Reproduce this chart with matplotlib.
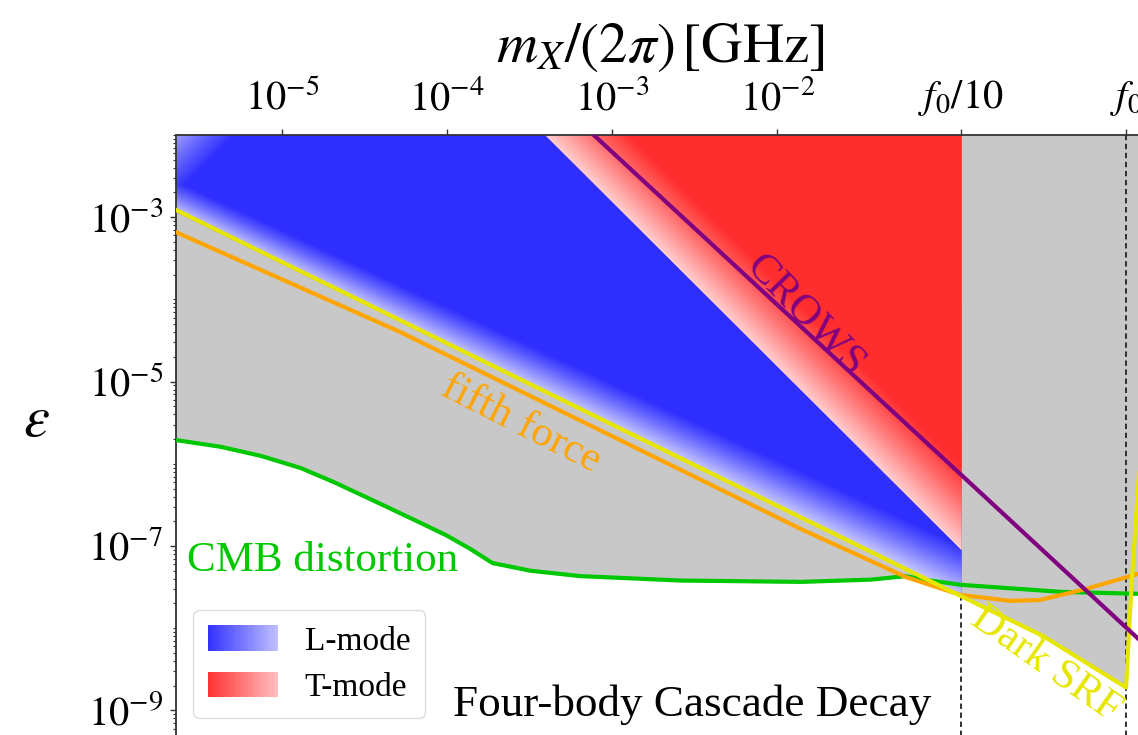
import numpy as np
import matplotlib
matplotlib.use('Agg')
import matplotlib.pyplot as plt
from matplotlib.patches import Rectangle, Patch
from matplotlib.legend_handler import HandlerBase
from matplotlib.colors import to_rgb
from matplotlib.ticker import NullLocator, NullFormatter, LogLocator, FixedLocator, FixedFormatter

plt.rcParams['font.family'] = ['Liberation Serif', 'DejaVu Serif']
plt.rcParams['mathtext.fontset'] = 'stix'

# ---------------- data (mass in GHz, epsilon) ----------------
F0 = 1.3
X_MIN, X_MAX = 2.26e-6, 10.0
Y_MIN, Y_MAX = 1e-10, 1e-2

cmb_m = [2.25e-6, 4.23e-6, 7.4e-6, 1.29e-5, 2.05e-5, 3.94e-5, 6.89e-5, 1.0e-4, 1.38e-4,
         1.75e-4, 1.88e-4, 3.2e-4, 6.4e-4, 2.6e-3, 1.4e-2, 3.7e-2, 6.0e-2, 8.5e-2, 0.13,
         0.52, 1.55, 10.0]
cmb_eps = [1.95e-6, 1.61e-6, 1.25e-6, 8.9e-7, 6.0e-7, 3.25e-7, 1.91e-7, 1.33e-7, 9.2e-8,
           6.8e-8, 6.2e-8, 5.0e-8, 4.3e-8, 3.8e-8, 3.66e-8, 3.9e-8, 4.3e-8, 3.8e-8, 3.37e-8,
           2.77e-8, 2.62e-8, 2.5e-8]

ff_m = [2.26e-6, 5.2e-5, 1.39e-2, 6.0e-2, 0.129, 0.26, 0.39, 0.74, 1.55, 10.0]
ff_eps = [6.6e-4, 4.0e-5, 1.61e-7, 4.2e-8, 2.54e-8, 2.15e-8, 2.2e-8, 3.0e-8, 4.6e-8, 1.3e-7]

srf_m = [2.26e-6, 0.129, 0.41, 1.3, 1.41, 1.55, 1.8]
srf_eps = [1.23e-3, 2.47e-8, 8.0e-9, 1.9e-9, 4.0e-8, 6.5e-7, 1e-4]

crows_m = [5e-4, 1e-3, 1e-2, 0.1, 1.0, 10.0]
crows_eps = [2.24e-2, 6.19e-3, 8.61e-5, 1.20e-6, 1.66e-8, 2.31e-10]

# L-mode / T-mode region edges
lmode_lower_m = [2.26e-6, 0.13]
lmode_lower_eps = [1.15e-3, 2.4e-8]       # faint edge (just under Dark SRF line)
lmode_full_m = [2.26e-6, 0.13]
lmode_full_eps = [2.75e-3, 1.0e-7]        # fully saturated from here up
lmode_corner_m = [2.26e-6, 1e-5]
lmode_corner_eps = [2.0e-2, 0.392]
border_m = [1e-4, 0.13]
border_eps = [1.52e-1, 8.97e-8]

CORNER_FADE = 1.0     # decades
TMODE_FADE = 1.0      # decades
OPAC_START, OPAC_FULL = 0.2, 0.8

# ---------------- figure ----------------
W, H = 1138, 735
fig = plt.figure(figsize=(W / 100, H / 100), dpi=100)
ax_left_px, ax_top_px = 175.7, 135.0
px_per_dec_x, px_per_dec_y = 165.0, 82.2
ax_w_px = px_per_dec_x * (np.log10(X_MAX) - np.log10(X_MIN))
ax_h_px = px_per_dec_y * (np.log10(Y_MAX) - np.log10(Y_MIN))
ax = fig.add_axes([ax_left_px / W, 1 - (ax_top_px + ax_h_px) / H, ax_w_px / W, ax_h_px / H])
ax.set_xscale('log')
ax.set_yscale('log')
ax.set_xlim(X_MIN, X_MAX)
ax.set_ylim(Y_MIN, Y_MAX)


def line2(ms, es):
    x0, x1 = np.log10(ms)
    y0, y1 = np.log10(es)
    s = (y1 - y0) / (x1 - x0)
    return lambda X: y0 + s * (X - x0)


def logi(X, ms, es):
    return np.interp(X, np.log10(ms), np.log10(es))


low_f = line2(lmode_lower_m, lmode_lower_eps)
full_f = line2(lmode_full_m, lmode_full_eps)
corner_f = line2(lmode_corner_m, lmode_corner_eps)
border_f = line2(border_m, border_eps)

# gray excluded region
Xa = np.linspace(np.log10(X_MIN), np.log10(X_MAX), 4000)
g = logi(Xa, cmb_m, cmb_eps)
ysrf = logi(Xa, srf_m, srf_eps)
lower = np.minimum(g, ysrf)
upper = np.where(Xa < np.log10(F0 / 10), ysrf, 0.0)
ax.fill_between(10 ** Xa, 10 ** lower, 10 ** upper, where=upper > lower,
                interpolate=True, color='#c8c8c8', lw=0, zorder=1)

# dashed lines
ax.vlines(F0 / 10, Y_MIN, 10 ** logi(np.log10(F0 / 10), srf_m, srf_eps),
          colors='#222222', linestyles=(0, (3, 2)), lw=1.3, zorder=1.5)
ax.axvline(F0, color='#222222', ls=(0, (3, 2)), lw=1.3, zorder=1.5)


# nested bands with linearly increasing cumulative opacity
def band_alphas(n):
    op = OPAC_START + (OPAC_FULL - OPAC_START) * np.arange(n) / (n - 1)
    al = [op[0]]
    for k in range(1, n):
        al.append(1 - (1 - op[k]) / (1 - op[k - 1]))
    return al


Xg = np.linspace(np.log10(X_MIN), np.log10(F0 / 10), 800)
NB = 30
alphas = band_alphas(NB)

# L-mode gradient region
for k in range(NB):
    f = k / (NB - 1)
    lo = low_f(Xg) + f * (full_f(Xg) - low_f(Xg))
    up = np.minimum.reduce([border_f(Xg), corner_f(Xg) - f * CORNER_FADE,
                            np.zeros_like(Xg)])
    ax.fill_between(10 ** Xg, 10 ** lo, 10 ** up, where=up > lo, interpolate=True,
                    color='blue', alpha=alphas[k], lw=0, zorder=2)

# T-mode gradient region
for k in range(NB):
    f = k / (NB - 1)
    lo = border_f(Xg) + f * TMODE_FADE
    up = np.zeros_like(Xg)
    ax.fill_between(10 ** Xg, 10 ** lo, 10 ** up, where=up > lo, interpolate=True,
                    color='red', alpha=alphas[k], lw=0, zorder=2)

# constraint lines
c_green = '#00c800'
c_orange = '#ffa500'
c_yellow = '#e6e600'
c_purple = '#800080'
ax.plot(cmb_m, cmb_eps, color=c_green, lw=3, zorder=3)
ax.plot(ff_m, ff_eps, color=c_orange, lw=3, zorder=3)
ax.plot(srf_m, srf_eps, color=c_yellow, lw=3, zorder=3)
ax.plot(crows_m, crows_eps, color=c_purple, lw=3, zorder=3.5)

# labels
ax.text(2.65e-6, 5.0e-8, 'CMB distortion', color=c_green, fontsize=31,
        ha='left', va='baseline', zorder=4)
ax.text(2.78e-4, 3.05e-6, 'fifth force', color=c_orange, fontsize=31, rotation=-27,
        rotation_mode='anchor', ha='center', va='center', zorder=4)
ax.text(1.485e-2, 6.3e-5, 'CROWS', color=c_purple, fontsize=31, rotation=-46,
        rotation_mode='anchor', ha='center', va='center', zorder=4)
ax.text(0.423, 3.68e-9, 'Dark SRF', color=c_yellow, fontsize=31, rotation=-35,
        rotation_mode='anchor', ha='center', va='center', zorder=4)
ax.text((453 - ax_left_px) / ax_w_px, (ax_top_px + ax_h_px - 716) / ax_h_px,
        'Four-body Cascade Decay', transform=ax.transAxes, fontsize=32.5,
        ha='left', va='baseline', zorder=4)

# axes styling
ax.xaxis.tick_top()
ax.xaxis.set_label_position('top')
ax.xaxis.set_minor_locator(NullLocator())
xt = [1e-5, 1e-4, 1e-3, 1e-2, F0 / 10, F0]
xl = [r'$10^{-5}$', r'$10^{-4}$', r'$10^{-3}$', r'$10^{-2}$', r'$f_0/10$', r'$f_0$']
ax.xaxis.set_major_locator(FixedLocator(xt))
ax.xaxis.set_major_formatter(FixedFormatter(xl))
yt = [1e-9, 1e-7, 1e-5, 1e-3]
ax.yaxis.set_major_locator(FixedLocator(yt))
ax.yaxis.set_major_formatter(FixedFormatter([r'$10^{-9}$', r'$10^{-7}$', r'$10^{-5}$', r'$10^{-3}$']))
ax.yaxis.set_minor_locator(LogLocator(base=10, subs=np.arange(1, 10), numticks=100))
ax.yaxis.set_minor_formatter(NullFormatter())
ax.tick_params(axis='x', which='major', direction='out', length=4, width=1,
               labelsize=29, pad=8, top=True, bottom=False, colors='#333333', labelcolor='black')
ax.tick_params(axis='y', which='major', direction='out', length=4, width=1,
               labelsize=29, pad=5, colors='#333333', labelcolor='black')
ax.tick_params(axis='y', which='minor', direction='out', length=2.5, width=0.8, colors='#333333')
for s in ax.spines.values():
    s.set_color('#333333')
    s.set_linewidth(1.3)

fig.text(660 / W, 1 - 62 / H, r'$m_X/(2\pi)\,[\mathrm{GHz}]$', fontsize=41,
         ha='center', va='baseline')
fig.text(36 / W, 1 - 422 / H, r'$\varepsilon$', fontsize=42, ha='center', va='center')


# legend with gradient patches
class GradHandler(HandlerBase):
    def __init__(self, color):
        super().__init__()
        self.color = np.array(to_rgb(color))

    def create_artists(self, legend, orig_handle, xdescent, ydescent, width, height,
                       fontsize, trans):
        n = 40
        arts = []
        for i in range(n):
            t = 0.8 - 0.55 * i / (n - 1)
            col = 1 - t * (1 - self.color)
            r = Rectangle((-xdescent + i * width / n, -ydescent), width / n * 1.05, height,
                          facecolor=col, edgecolor='none', transform=trans)
            arts.append(r)
        return arts


hL = Patch(label='L-mode')
hT = Patch(label='T-mode')
leg = ax.legend(handles=[hL, hT], handler_map={hL: GradHandler('blue'), hT: GradHandler('red')},
                loc='lower left',
                bbox_to_anchor=((193 - ax_left_px) / ax_w_px, (ax_top_px + ax_h_px - 718) / ax_h_px),
                borderaxespad=0, fontsize=24, handlelength=2.1, handleheight=0.8,
                handletextpad=0.8, labelspacing=0.45, fancybox=True, framealpha=1,
                edgecolor='#dddddd', borderpad=0.45)
leg.set_zorder(6)

fig.savefig('out.png', dpi=100)
